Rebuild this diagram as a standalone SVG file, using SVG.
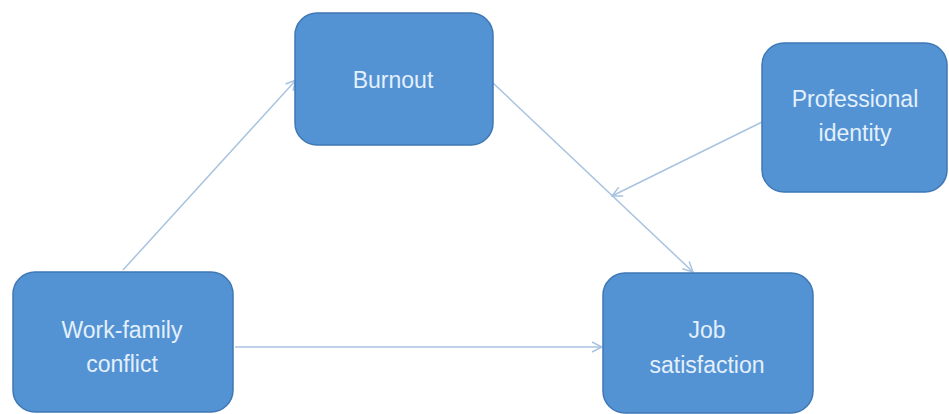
<svg xmlns="http://www.w3.org/2000/svg" width="949" height="414" viewBox="0 0 949 414">
<defs>
<style>
.node rect{fill:#5393d4;stroke:#3f78b4;stroke-width:1.5}
.node text{font-family:"Liberation Sans",Arial,sans-serif;font-size:23px;fill:#e3f0fc;text-anchor:middle}
.conn line{stroke:#a8c3e0;stroke-width:1.5;fill:none}
</style>
<marker id="arr" viewBox="0 0 12 12" refX="11" refY="6" markerWidth="12" markerHeight="12" markerUnits="userSpaceOnUse" orient="auto">
<polyline points="1,1 11,6 1,11" fill="none" stroke="#a8c3e0" stroke-width="1.5"/>
</marker>
</defs>
<rect width="949" height="414" fill="#ffffff"/>
<g id="connectors" class="conn">
<line x1="123" y1="270" x2="296" y2="80" marker-end="url(#arr)"/>
<line x1="493" y1="83" x2="693" y2="272" marker-end="url(#arr)"/>
<line x1="762" y1="122" x2="612" y2="196" marker-end="url(#arr)"/>
<line x1="235" y1="347" x2="602" y2="347" marker-end="url(#arr)"/>
</g>
<g id="burnout" class="node">
<rect x="295" y="13" width="198" height="132" rx="22"/>
<text x="393" y="88">Burnout</text>
</g>
<g id="professional-identity" class="node">
<rect x="762" y="43" width="185" height="149" rx="22"/>
<text x="855" y="107">Professional</text>
<text x="855" y="141">identity</text>
</g>
<g id="work-family-conflict" class="node">
<rect x="13" y="272" width="220" height="140" rx="22"/>
<text x="122" y="338">Work-family</text>
<text x="122" y="372">conflict</text>
</g>
<g id="job-satisfaction" class="node">
<rect x="603" y="273" width="210" height="140" rx="22"/>
<text x="707" y="338">Job</text>
<text x="707" y="373">satisfaction</text>
</g>
</svg>
